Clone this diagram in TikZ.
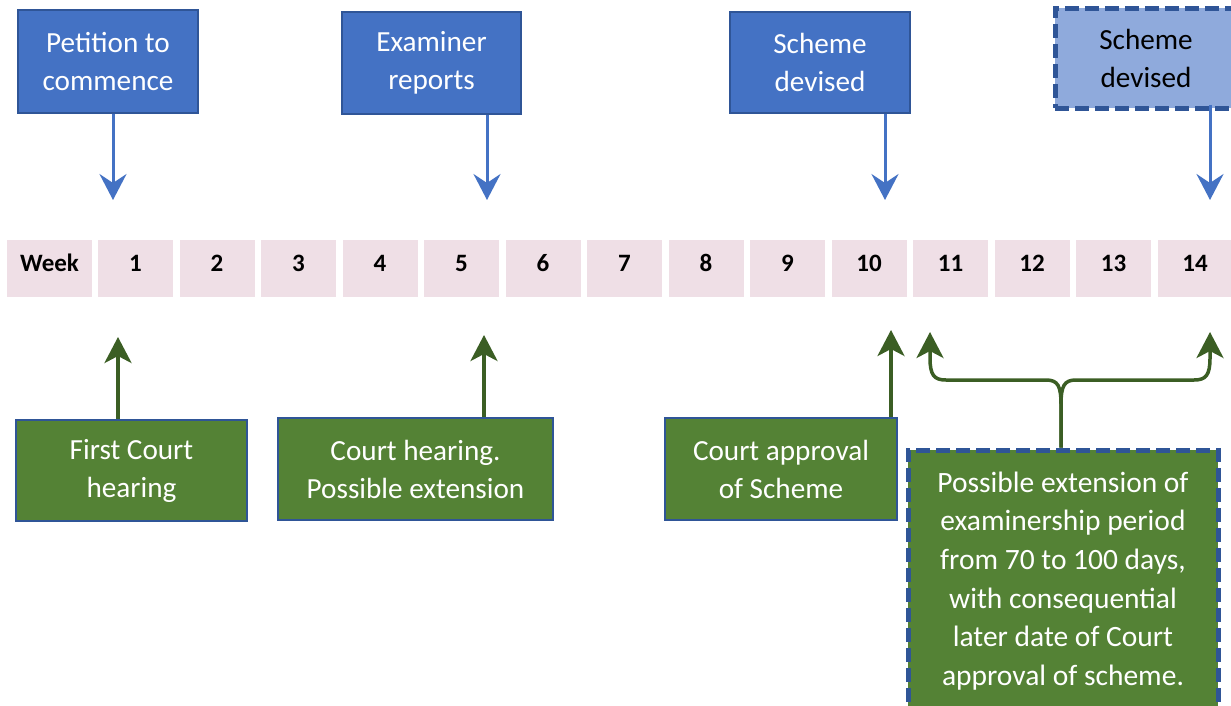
\documentclass[tikz,border=0pt]{standalone}
\usepackage{fontspec}
\setmainfont{Carlito}
\usetikzlibrary{arrows.meta}
\definecolor{boxblue}{HTML}{4472C4}
\definecolor{edgeblue}{HTML}{2F5597}
\definecolor{lightblue}{HTML}{8FAADC}
\definecolor{boxgreen}{HTML}{548235}
\definecolor{arrgreen}{HTML}{3B5E24}
\definecolor{cellpink}{HTML}{EFDFE6}
\tikzset{
  lbl/.style={font=\fontsize{29.2}{38}\selectfont, align=center, inner sep=0pt},
  bluebox/.style={lbl, fill=boxblue, draw=edgeblue, line width=2pt, text=white},
  dashbox/.style={lbl, draw=edgeblue, line width=5pt, dash pattern=on 14pt off 6pt},
  greenbox/.style={lbl, fill=boxgreen, draw=edgeblue, line width=2pt, text=white},
  cell/.style={fill=cellpink, minimum width=75pt, minimum height=57pt, inner sep=0pt,
    text height=16pt, text depth=10pt,
    font=\fontsize{25}{28}\selectfont\bfseries},
  bluearr/.style={draw=boxblue, line width=3pt, -{Stealth[length=26pt,width=27pt,inset=9pt]}},
  greenarr/.style={draw=arrgreen, line width=3.5pt, -{Stealth[length=26pt,width=27pt,inset=7pt]}},
}
\begin{document}
\begin{tikzpicture}[x=1pt,y=-1pt]
\useasboundingbox (0,0) rectangle (1231,705);
\fill[white] (0,0) rectangle (1231,705);

% timeline cells
\node[cell, minimum width=85pt] (week) at (49.5,268.5) {Week};
\foreach \i in {1,...,14}
  \node[cell] (w\i) at ({135.5+81.5*(\i-1)},268.5) {\i};

% top boxes
\node[bluebox, minimum width=180pt, minimum height=103pt] (pet) at (108,61.5) {Petition to\\commence};
\node[bluebox, minimum width=179pt, minimum height=102pt] (exr) at (431.5,63) {Examiner\\reports};
\node[bluebox, minimum width=180pt, minimum height=101pt] (sch) at (820,62.5) {Scheme\\devised};
\node[dashbox, fill=lightblue, minimum width=182pt, minimum height=100pt] (sch2) at (1146,58) {Scheme\\devised};

% bottom boxes
\node[greenbox, minimum width=231pt, minimum height=101pt] (fch) at (131.5,470.5) {First Court\\hearing};
\node[greenbox, minimum width=275pt, minimum height=102pt] (chr) at (415.5,469) {Court hearing.\\Possible extension};
\node[greenbox, minimum width=232pt, minimum height=102pt] (cap) at (781,469) {Court approval\\of Scheme};
\node[dashbox, fill=boxgreen, text=white, font=\fontsize{29.5}{38.6}\selectfont,
      minimum width=310pt, minimum height=262pt] (ext) at (1063,581)
  {Possible extension of\\examinership period\\from 70 to 100 days,\\with consequential\\later date of Court\\approval of scheme.};

% arrow targets
\coordinate (t1) at (113,200);
\coordinate (t5) at (487,200);
\coordinate (t10) at (885,200);
\coordinate (t14) at (1210,200);
\coordinate (b1) at (118,337);
\coordinate (b5) at (484,335);
\coordinate (b10) at (891,330);
\coordinate (b11) at (930,332);
\coordinate (b14) at (1210,332);
\coordinate (j) at (1061,383);

% top arrows
\draw[bluearr] (pet.south -| t1) -- (t1);
\draw[bluearr] (exr.south -| t5) -- (t5);
\draw[bluearr] (sch.south -| t10) -- (t10);
\draw[bluearr] ([yshift=6pt]sch2.south -| t14) -- (t14);

% bottom arrows
\draw[greenarr] (fch.north -| b1) -- (b1);
\draw[greenarr] (chr.north -| b5) -- (b5);
\draw[greenarr] (cap.north -| b10) -- (b10);

% brace
\draw[greenarr] (ext.north -| j) -- (1061,405) .. controls (1061,386) and (1058,380) .. (1046,380)
  -- (946,380) .. controls (934,380) and (930,375) .. (930,358) -- (b11);
\draw[greenarr] (ext.north -| j) -- (1061,405) .. controls (1061,386) and (1064,380) .. (1076,380)
  -- (1194,380) .. controls (1206,380) and (1210,375) .. (1210,358) -- (b14);
\end{tikzpicture}
\end{document}
